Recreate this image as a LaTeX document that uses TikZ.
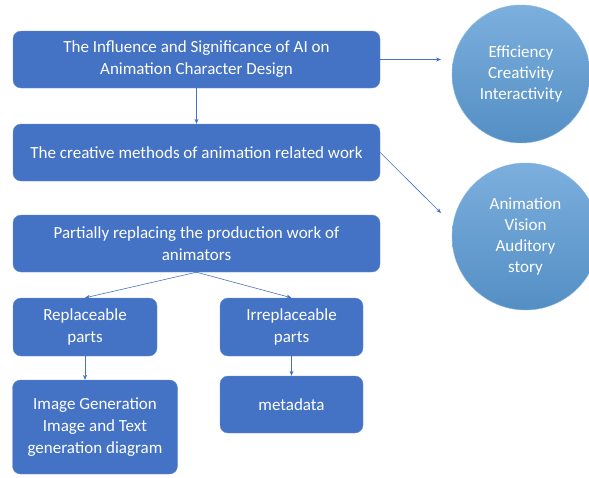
\documentclass[tikz,border=0pt]{standalone}
\usepackage{fontspec}
\setmainfont{Carlito}
\usetikzlibrary{arrows.meta}
\definecolor{boxblue}{HTML}{4472C4}
\definecolor{ballblue}{HTML}{5B9BD5}
\tikzset{
  box/.style={draw=boxblue!80!white, fill=boxblue, rounded corners=8pt,
    text=white, align=center, inner sep=0pt,
    font=\fontsize{17}{22}\selectfont},
  ball/.style={circle, draw=ballblue!70!white, top color=ballblue!80!white,
    bottom color=ballblue!92!black, text=white, align=center, inner sep=0pt,
    font=\fontsize{17}{21}\selectfont},
  link/.style={draw=boxblue, line width=0.6pt, -{Stealth[length=5pt,width=4pt]}}
}
\begin{document}
\begin{tikzpicture}[x=1pt,y=-1pt]
      \useasboundingbox (0,0) rectangle (589,477);
      \draw
        (196.5,59.5) node[box, minimum width=367pt, minimum height=57pt] (0)
          {The Influence and Significance of AI on\\Animation Character Design}
        (521,74) node[ball, minimum size=138pt] (1)
          {Efficiency\\Creativity\\Interactivity}
        (196.5,152.5) node[box, minimum width=367pt, minimum height=57pt] (2)
          {The creative methods of animation related work}
        (525.5,236.5) node[ball, minimum size=147pt] (3)
          {Animation\\Vision\\Auditory\\story}
        (196.5,243.5) node[box, minimum width=367pt, minimum height=57pt] (4)
          {Partially replacing the production work of\\animators}
        (85,327) node[box, minimum width=144pt, minimum height=58pt] (5)
          {Replaceable\\parts}
        (291.5,327) node[box, minimum width=143pt, minimum height=58pt] (6)
          {Irreplaceable\\parts}
        (95,427) node[box, minimum width=165pt, minimum height=94pt] (7)
          {Image Generation\\Image and Text\\generation diagram}
        (291.5,404.5) node[box, minimum width=143pt, minimum height=57pt] (8)
          {metadata};
      \coordinate (t1) at (441,59.5);
      \coordinate (t3) at (441,213);
      \begin{scope}[link]
        \draw (0) to (t1);
        \draw (0) to (2);
        \draw (2.east) to (t3);
        \draw (4.south) to (5.north);
        \draw (4.south) to (6.north);
        \draw (5.south) to (5.south |- 7.north);
        \draw (6) to (8);
      \end{scope}
    \end{tikzpicture}
\end{document}
